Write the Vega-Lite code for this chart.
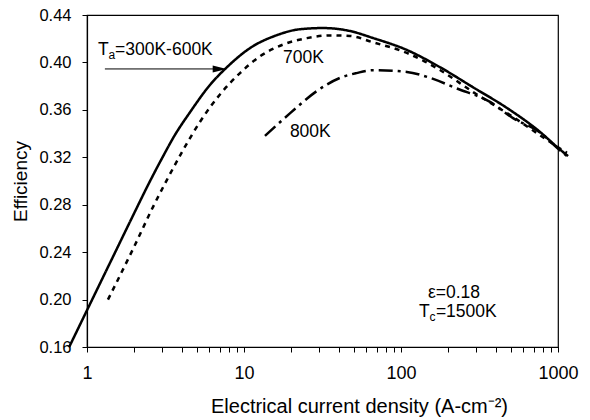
{
  "$schema": "https://vega.github.io/schema/vega-lite/v6.json",
  "width": 471,
  "height": 332,
  "autosize": {"type": "none"},
  "padding": {"left": 87, "top": 15, "right": 32, "bottom": 73},
  "background": "white",
  "config": {
    "font": "Liberation Sans",
    "view": {"stroke": "black", "strokeWidth": 1.2},
    "axis": {
      "domainColor": "black",
      "domainWidth": 1.2,
      "tickColor": "black",
      "labelColor": "black",
      "titleColor": "black",
      "grid": false,
      "labelFont": "Liberation Sans",
      "titleFont": "Liberation Sans",
      "titleFontWeight": "normal"
    }
  },
  "datasets": {
    "curves": [
      {"series": "300K-600K", "j": 0.77, "eff": 0.160},
      {"series": "300K-600K", "j": 1.0, "eff": 0.191},
      {"series": "300K-600K", "j": 1.5, "eff": 0.239},
      {"series": "300K-600K", "j": 2.0, "eff": 0.273},
      {"series": "300K-600K", "j": 2.5, "eff": 0.299},
      {"series": "300K-600K", "j": 3.0, "eff": 0.319},
      {"series": "300K-600K", "j": 3.6, "eff": 0.338},
      {"series": "300K-600K", "j": 4.53, "eff": 0.358},
      {"series": "300K-600K", "j": 6.07, "eff": 0.381},
      {"series": "300K-600K", "j": 7.79, "eff": 0.396},
      {"series": "300K-600K", "j": 10.9, "eff": 0.412},
      {"series": "300K-600K", "j": 16.2, "eff": 0.423},
      {"series": "300K-600K", "j": 22.7, "eff": 0.428},
      {"series": "300K-600K", "j": 31.9, "eff": 0.429},
      {"series": "300K-600K", "j": 47.3, "eff": 0.4265},
      {"series": "300K-600K", "j": 66.3, "eff": 0.4206},
      {"series": "300K-600K", "j": 109, "eff": 0.4105},
      {"series": "300K-600K", "j": 177, "eff": 0.396},
      {"series": "300K-600K", "j": 288, "eff": 0.379},
      {"series": "300K-600K", "j": 473, "eff": 0.3616},
      {"series": "300K-600K", "j": 768, "eff": 0.3414},
      {"series": "300K-600K", "j": 1000, "eff": 0.328},
      {"series": "300K-600K", "j": 1158, "eff": 0.321},
      {"series": "700K", "j": 1.36, "eff": 0.200},
      {"series": "700K", "j": 1.55, "eff": 0.215},
      {"series": "700K", "j": 2.02, "eff": 0.246},
      {"series": "700K", "j": 2.63, "eff": 0.278},
      {"series": "700K", "j": 3.23, "eff": 0.301},
      {"series": "700K", "j": 4.09, "eff": 0.326},
      {"series": "700K", "j": 5.25, "eff": 0.350},
      {"series": "700K", "j": 7.03, "eff": 0.373},
      {"series": "700K", "j": 9.43, "eff": 0.391},
      {"series": "700K", "j": 12.6, "eff": 0.405},
      {"series": "700K", "j": 17.7, "eff": 0.415},
      {"series": "700K", "j": 25.2, "eff": 0.4205},
      {"series": "700K", "j": 35.3, "eff": 0.4228},
      {"series": "700K", "j": 47.3, "eff": 0.4223},
      {"series": "700K", "j": 66.3, "eff": 0.417},
      {"series": "700K", "j": 109, "eff": 0.408},
      {"series": "700K", "j": 177, "eff": 0.3936},
      {"series": "700K", "j": 288, "eff": 0.375},
      {"series": "700K", "j": 517, "eff": 0.354},
      {"series": "700K", "j": 851, "eff": 0.3346},
      {"series": "700K", "j": 1140, "eff": 0.3237},
      {"series": "800K", "j": 13.6, "eff": 0.338},
      {"series": "800K", "j": 19.6, "eff": 0.357},
      {"series": "800K", "j": 29.2, "eff": 0.376},
      {"series": "800K", "j": 40.9, "eff": 0.387},
      {"series": "800K", "j": 52, "eff": 0.391},
      {"series": "800K", "j": 66.3, "eff": 0.3935},
      {"series": "800K", "j": 109, "eff": 0.392},
      {"series": "800K", "j": 153, "eff": 0.387},
      {"series": "800K", "j": 227, "eff": 0.378},
      {"series": "800K", "j": 369, "eff": 0.3667},
      {"series": "800K", "j": 517, "eff": 0.353},
      {"series": "800K", "j": 768, "eff": 0.341},
      {"series": "800K", "j": 986, "eff": 0.328},
      {"series": "800K", "j": 1140, "eff": 0.321}
    ],
    "notes": [
      {"part": "main", "j": 1.175, "eff": 0.4105, "text": "T"},
      {"part": "sub", "j": 1.175, "eff": 0.4105, "text": "a"},
      {"part": "rest", "j": 1.175, "eff": 0.4105, "text": "=300K-600K"},
      {"part": "main", "j": 130, "eff": 0.1896, "text": "T"},
      {"part": "sub", "j": 130, "eff": 0.1896, "text": "c"},
      {"part": "rest", "j": 130, "eff": 0.1896, "text": "=1500K"},
      {"part": "plain", "j": 17.7, "eff": 0.4037, "text": "700K"},
      {"part": "plain", "j": 19.6, "eff": 0.3414, "text": "800K"},
      {"part": "plain", "j": 148.6, "eff": 0.2056, "text": "ε=0.18"}
    ],
    "arrow": [
      {"j": 1.30, "j2": 6.35, "eff": 0.3945}
    ],
    "head": [
      {"j": 7.0, "eff": 0.3945}
    ]
  },
  "layer": [
    {
      "data": {"name": "curves"},
      "mark": {"type": "line", "color": "black", "strokeWidth": 2.5, "clip": false, "interpolate": "monotone"},
      "encoding": {
        "x": {
          "field": "j",
          "type": "quantitative",
          "scale": {"type": "log", "domain": [1, 1000], "nice": false},
          "axis": {
            "values": [1, 2, 3, 4, 5, 6, 7, 8, 9, 10, 20, 30, 40, 50, 60, 70, 80, 90, 100, 200, 300, 400, 500, 600, 700, 800, 900, 1000],
            "labelExpr": "(datum.value == 1 || datum.value == 10 || datum.value == 100 || datum.value == 1000) ? datum.label : ''",
            "format": "d",
            "labelFontSize": 18,
            "labelPadding": 12,
            "tickSize": 5,
            "labelFlush": false,
            "labelOverlap": false,
            "title": "Electrical current density (A-cm⁻²)",
            "titleFontSize": 20,
            "titleX": 272,
            "titleY": 59,
            "titleAlign": "center",
            "titleBaseline": "middle"
          }
        },
        "y": {
          "field": "eff",
          "type": "quantitative",
          "scale": {"domain": [0.16, 0.44], "nice": false, "zero": false},
          "axis": {
            "values": [0.16, 0.2, 0.24, 0.28, 0.32, 0.36, 0.4, 0.44],
            "format": ".2f",
            "labelFontSize": 16.5,
            "labelPadding": 11,
            "tickSize": 5,
            "labelFlush": false,
            "labelOverlap": false,
            "title": "Efficiency",
            "titleFontSize": 19,
            "titleX": -67,
            "titleY": 166,
            "titleAngle": -90,
            "titleAlign": "center",
            "titleBaseline": "middle"
          }
        },
        "strokeDash": {
          "field": "series",
          "type": "nominal",
          "scale": {"domain": ["300K-600K", "700K", "800K"], "range": [[1, 0], [5, 5], [14, 5, 3, 5]]},
          "legend": null
        },
        "order": {"field": "j", "type": "quantitative"}
      }
    },
    {
      "data": {"name": "arrow"},
      "mark": {"type": "rule", "color": "black", "strokeWidth": 1},
      "encoding": {
        "x": {"field": "j", "type": "quantitative"},
        "x2": {"field": "j2"},
        "y": {"field": "eff", "type": "quantitative"}
      }
    },
    {
      "data": {"name": "head"},
      "mark": {"type": "point", "shape": "M-1,-0.5L1,0L-1,0.5Z", "size": 196, "filled": true, "color": "black", "opacity": 1},
      "encoding": {
        "x": {"field": "j", "type": "quantitative"},
        "y": {"field": "eff", "type": "quantitative"}
      }
    },
    {
      "data": {"name": "notes"},
      "transform": [{"filter": "datum.part == 'main' || datum.part == 'plain'"}],
      "mark": {"type": "text", "align": "left", "baseline": "middle", "fontSize": 17.5, "color": "black"},
      "encoding": {
        "x": {"field": "j", "type": "quantitative"},
        "y": {"field": "eff", "type": "quantitative"},
        "text": {"field": "text"}
      }
    },
    {
      "data": {"name": "notes"},
      "transform": [{"filter": "datum.part == 'sub'"}],
      "mark": {"type": "text", "align": "left", "baseline": "middle", "fontSize": 12, "dx": 10.5, "dy": 5, "color": "black"},
      "encoding": {
        "x": {"field": "j", "type": "quantitative"},
        "y": {"field": "eff", "type": "quantitative"},
        "text": {"field": "text"}
      }
    },
    {
      "data": {"name": "notes"},
      "transform": [{"filter": "datum.part == 'rest'"}],
      "mark": {"type": "text", "align": "left", "baseline": "middle", "fontSize": 17.5, "dx": 17, "color": "black"},
      "encoding": {
        "x": {"field": "j", "type": "quantitative"},
        "y": {"field": "eff", "type": "quantitative"},
        "text": {"field": "text"}
      }
    }
  ]
}
